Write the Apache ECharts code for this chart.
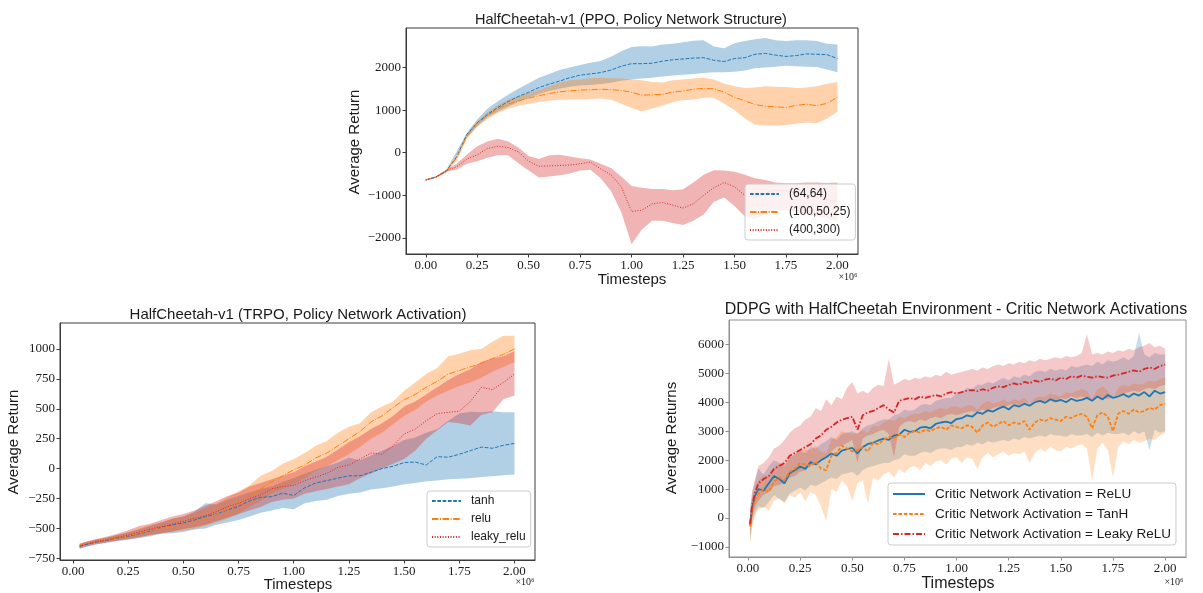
<!DOCTYPE html>
<html>
<head>
<meta charset="utf-8">
<script src="https://cdn.jsdelivr.net/npm/echarts@6/dist/echarts.min.js"></script>
<style>
  html, body { margin: 0; padding: 0; background: #fff; }
  #chart { width: 1203px; height: 593px; }
</style>
</head>
<body>
<div id="chart"></div>
<script>
// ---------- shared tick labels ----------
const X_TICKS = [0, 0.25, 0.5, 0.75, 1.0, 1.25, 1.5, 1.75, 2.0];
const PPO_Y_TICKS = [-2000, -1000, 0, 1000, 2000];
const TRPO_Y_TICKS = [-750, -500, -250, 0, 250, 500, 750, 1000];
const DDPG_Y_TICKS = [-1000, 0, 1000, 2000, 3000, 4000, 5000, 6000];

// ---------- PPO, policy network structure (timesteps in millions) ----------
const PPO_X = [0, 0.05, 0.1, 0.15, 0.2, 0.25, 0.3, 0.35, 0.4, 0.45, 0.5, 0.55, 0.6, 0.65, 0.7, 0.75, 0.8, 0.85, 0.9, 0.95, 1.0,
  1.05, 1.1, 1.15, 1.2, 1.25, 1.3, 1.35, 1.4, 1.45, 1.5, 1.55, 1.6, 1.65, 1.7, 1.75, 1.8, 1.85, 1.9, 1.95, 2.0];
const PPO_64_MEAN = [-640, -570, -430, -100, 430, 700, 900, 1060, 1200, 1320, 1420, 1530, 1610, 1680, 1760, 1820, 1850, 1880, 1940, 2030, 2090,
  2090, 2100, 2150, 2180, 2200, 2220, 2230, 2170, 2140, 2210, 2230, 2310, 2330, 2290, 2260, 2280, 2320, 2310, 2300, 2210];
const PPO_64_HI = [-630, -555, -400, 30, 470, 780, 1040, 1210, 1360, 1500, 1630, 1760, 1850, 1940, 2000, 2060, 2110, 2150, 2250, 2380, 2480,
  2500, 2490, 2540, 2560, 2590, 2630, 2640, 2490, 2450, 2570, 2620, 2660, 2690, 2640, 2620, 2640, 2640, 2620, 2560, 2540];
const PPO_64_LO = [-650, -585, -460, -60, 360, 620, 830, 960, 1080, 1190, 1290, 1380, 1450, 1500, 1550, 1580, 1590, 1610, 1640, 1690, 1720,
  1740, 1760, 1790, 1810, 1830, 1850, 1870, 1890, 1890, 1900, 1930, 1980, 2000, 2020, 2040, 2030, 2020, 2010, 1950, 1890];
const PPO_100_MEAN = [-640, -575, -440, -120, 390, 680, 870, 1030, 1140, 1220, 1280, 1340, 1390, 1430, 1450, 1470, 1480, 1490, 1480, 1460, 1420,
  1350, 1360, 1370, 1420, 1450, 1490, 1510, 1500, 1420, 1300, 1220, 1130, 1090, 1080, 1060, 1110, 1140, 1100, 1160, 1300];
const PPO_100_HI = [-630, -560, -410, -50, 450, 740, 950, 1120, 1240, 1330, 1410, 1480, 1560, 1640, 1700, 1720, 1750, 1760, 1750, 1740, 1720,
  1700, 1660, 1650, 1700, 1720, 1740, 1760, 1720, 1620, 1560, 1520, 1530, 1560, 1550, 1540, 1520, 1530, 1560, 1620, 1660];
const PPO_100_LO = [-650, -590, -470, -190, 330, 610, 790, 930, 1030, 1100, 1150, 1190, 1220, 1240, 1250, 1250, 1260, 1270, 1240, 1150, 1050,
  970, 1040, 1100, 1190, 1230, 1250, 1290, 1290, 1150, 1000, 800, 660, 640, 640, 650, 680, 710, 690, 800, 960];
const PPO_400_MEAN = [-640, -570, -420, -330, -150, -50, 100, 150, 120, 20, -200, -320, -310, -300, -290, -260, -220, -380, -520, -800, -1380,
  -1350, -1200, -1170, -1230, -1300, -1200, -1000, -820, -700, -800, -1000, -1050, -950, -880, -900, -950, -1000, -1050, -1100, -1150];
const PPO_400_HI = [-630, -555, -400, -260, -40, 150, 260, 330, 260, 120, -80, -150, -60, -50, -90, -130, -160, -260, -360, -560, -780,
  -820, -850, -850, -880, -860, -700, -520, -410, -420, -450, -520, -600, -640, -700, -720, -720, -700, -700, -710, -700];
const PPO_400_LO = [-650, -585, -440, -400, -260, -200, -120, -60, -60, -250, -420, -580, -560, -530, -490, -420, -400, -600, -900, -1400, -2150,
  -1800, -1600, -1600, -1650, -1700, -1600, -1450, -1150, -1050, -1250, -1500, -1550, -1450, -1350, -1350, -1400, -1450, -1500, -1550, -1600];

// ---------- TRPO, policy network activation ----------
const TRPO_X = [0.03, 0.05, 0.1, 0.15, 0.2, 0.25, 0.3, 0.35, 0.4, 0.45, 0.5, 0.55, 0.6, 0.65, 0.7, 0.75, 0.8, 0.85, 0.9, 0.95, 1.0,
  1.05, 1.1, 1.15, 1.2, 1.25, 1.3, 1.35, 1.4, 1.45, 1.5, 1.55, 1.6, 1.65, 1.7, 1.75, 1.8, 1.85, 1.9, 1.95, 2.0];
const TANH_MEAN = [-650, -640, -615, -600, -580, -565, -545, -520, -490, -470, -455, -430, -400, -380, -345, -315, -270, -240, -235, -205, -225,
  -160, -120, -100, -80, -60, -60, -30, 0, 20, 50, 55, 30, 100, 95, 120, 150, 180, 170, 195, 210];
const TANH_HI = [-630, -620, -595, -580, -555, -535, -510, -480, -450, -420, -400, -360, -290, -300, -260, -230, -200, -170, -150, -110, -80,
  -40, -10, 20, 50, 90, 70, 110, 150, 190, 240, 260, 300, 330, 400, 460, 475, 470, 480, 470, 470];
const TANH_LO = [-670, -660, -635, -620, -605, -595, -580, -565, -545, -540, -530, -510, -500, -470, -450, -430, -400, -370, -350, -330, -340,
  -290, -270, -260, -230, -210, -200, -175, -165, -150, -130, -120, -105, -100, -90, -85, -80, -70, -65, -55, -50];
const RELU_MEAN = [-640, -630, -610, -595, -580, -560, -540, -515, -495, -480, -465, -445, -420, -380, -340, -290, -230, -170, -110, -60, -10,
  30, 90, 130, 190, 250, 310, 390, 440, 510, 575, 620, 680, 730, 790, 820, 850, 880, 920, 955, 1000];
const RELU_HI = [-625, -615, -595, -575, -555, -530, -500, -470, -450, -420, -400, -370, -330, -290, -240, -190, -140, -60, -20, 40, 80,
  130, 190, 230, 300, 350, 380, 470, 520, 560, 650, 720, 790, 840, 940, 960, 990, 1000, 1060, 1110, 1110];
const RELU_LO = [-655, -645, -625, -610, -600, -585, -570, -555, -540, -530, -520, -505, -480, -450, -420, -380, -320, -270, -210, -170, -130,
  -80, -20, 20, 70, 120, 180, 250, 300, 370, 440, 490, 560, 610, 650, 690, 720, 760, 810, 850, 890];
const LEAKY_MEAN = [-650, -635, -612, -595, -575, -555, -530, -505, -485, -465, -440, -415, -395, -360, -320, -290, -250, -220, -170, -150, -140,
  -100, -70, -40, 10, 30, 80, 130, 120, 190, 290, 330, 400, 460, 470, 480, 560, 680, 660, 720, 790];
const LEAKY_HI = [-630, -615, -590, -570, -545, -515, -480, -460, -430, -400, -380, -350, -310, -270, -230, -200, -150, -120, -90, -60, -30,
  20, 60, 100, 160, 220, 270, 330, 380, 440, 520, 560, 620, 680, 740, 790, 830, 890, 920, 940, 980];
const LEAKY_LO = [-670, -655, -635, -620, -600, -590, -575, -555, -540, -525, -505, -490, -470, -440, -410, -380, -350, -320, -280, -260, -250,
  -210, -190, -170, -150, -130, -80, -40, 0, 40, 80, 150, 250, 320, 390, 380, 360, 450, 470, 580, 610];

// ---------- DDPG, critic network activations ----------
const DDPG_X = [0.01, 0.02, 0.035, 0.05, 0.075, 0.1, 0.125, 0.15, 0.175, 0.2, 0.225, 0.25, 0.275, 0.3, 0.325, 0.35, 0.375, 0.4, 0.425, 0.45,
  0.475, 0.5, 0.525, 0.55, 0.575, 0.6, 0.625, 0.65, 0.675, 0.7, 0.725, 0.75, 0.775, 0.8, 0.825, 0.85, 0.875, 0.9, 0.925, 0.95,
  0.975, 1.0, 1.025, 1.05, 1.075, 1.1, 1.125, 1.15, 1.175, 1.2, 1.225, 1.25, 1.275, 1.3, 1.325, 1.35, 1.375, 1.4, 1.425, 1.45,
  1.475, 1.5, 1.525, 1.55, 1.575, 1.6, 1.625, 1.65, 1.675, 1.7, 1.725, 1.75, 1.775, 1.8, 1.825, 1.85, 1.875, 1.9, 1.925, 1.95,
  1.975, 2.0];
const DDPG_RELU_MEAN = [-250, 350, 800, 1000, 950, 1200, 1450, 1350, 1200, 1550, 1650, 1780, 1700, 1930, 1850, 2000, 2100, 2230, 2150, 2330,
  2380, 2420, 2230, 2450, 2560, 2600, 2680, 2740, 2700, 2850, 2880, 3050, 2980, 3000, 3120, 3150, 3100, 3250, 3300, 3330,
  3280, 3420, 3450, 3550, 3500, 3650, 3600, 3720, 3680, 3780, 3850, 3750, 3900, 3850, 3950, 3880, 4000, 4050, 3980, 4100,
  4030, 4080, 4000, 4120, 4050, 4080, 4150, 4050, 4200, 4100, 4250, 4150, 4200, 4280, 4180, 4300, 4230, 4350, 4200, 4400,
  4300, 4350];
const DDPG_RELU_HI = [300, 900, 1300, 1700, 1500, 1800, 2000, 1900, 1800, 2100, 2200, 2300, 2250, 2450, 2400, 2550, 2650, 2800, 2700, 2900,
  2950, 3000, 2900, 3100, 3200, 3250, 3350, 3400, 3400, 3550, 3600, 3750, 3700, 3750, 3900, 3950, 3900, 4050, 4100, 4150,
  4150, 4300, 4350, 4500, 4450, 4600, 4600, 4700, 4650, 4750, 4850, 4750, 4900, 4850, 4950, 4900, 5050, 5100, 5050, 5150,
  5100, 5150, 5100, 5250, 5200, 5250, 5300, 5250, 5400, 5300, 5450, 5400, 5450, 5550, 5450, 5600, 6400, 5650, 5550, 5700,
  5650, 5650];
const DDPG_RELU_LO = [-800, -200, 200, 400, 350, 550, 800, 650, 550, 850, 950, 1050, 950, 1150, 1100, 1200, 1300, 1400, 1350, 1500,
  1550, 1600, 1450, 1650, 1750, 1800, 1850, 1900, 1900, 2000, 2050, 2200, 2150, 2150, 2250, 2300, 2250, 2350, 2400, 2400,
  2350, 2450, 2450, 2550, 2500, 2600, 2550, 2650, 2600, 2650, 2700, 2650, 2750, 2700, 2800, 2750, 2800, 2850, 2800, 2900,
  2850, 2850, 2800, 2900, 2850, 2850, 2900, 2800, 2950, 2850, 2950, 2900, 2900, 2950, 2850, 3000, 2900, 3000, 2350, 3050,
  2950, 3000];
const DDPG_TANH_MEAN = [-300, 250, 650, 850, 1000, 900, 1250, 1400, 1300, 1600, 1700, 1900, 1850, 1800, 1950, 1700, 1650, 2150, 2250, 2500,
  2400, 2300, 2350, 2450, 2300, 2600, 2550, 2700, 2800, 2750, 2900, 2800, 2950, 3000, 2950, 3050, 3000, 3100, 3150, 3050,
  3200, 3150, 3100, 3200, 3150, 2950, 3200, 3300, 3150, 3250, 3350, 3200, 3300, 3250, 3350, 3050, 3300, 3400, 3350, 3450,
  3400, 3350, 3500, 3450, 3550, 3600, 3500, 3100, 3550, 3650, 3500, 3000, 3600, 3700, 3600, 3750, 3650, 3700, 3800, 3750,
  3900, 3950];
const DDPG_TANH_HI = [100, 700, 1100, 1300, 1500, 1450, 1750, 1900, 1850, 2100, 2200, 2400, 2350, 2350, 2500, 2300, 2250, 2700, 2800, 3000,
  2950, 2900, 2950, 3050, 2950, 3200, 3150, 3300, 3400, 3350, 3500, 3450, 3550, 3600, 3600, 3700, 3650, 3750, 3800, 3750,
  3850, 3850, 3800, 3900, 3900, 3750, 3950, 4050, 3950, 4000, 4100, 4000, 4100, 4050, 4150, 3950, 4150, 4200, 4200, 4300,
  4250, 4200, 4350, 4300, 4400, 4450, 4400, 4100, 4450, 4550, 4400, 4100, 4500, 4600, 4550, 4650, 4600, 4650, 4750, 4700,
  4800, 4850];
const DDPG_TANH_LO = [-900, -300, 100, 300, 400, 250, 600, 700, 500, 800, 700, 900, 600, 900, 800, 400, -100, 1000, 900, 1300,
  1100, 600, 1200, 1300, 500, 1400, 1300, 1500, 1600, 1400, 1700, 1550, 1750, 1800, 1650, 1900, 1800, 1950, 2000, 1850,
  2050, 2100, 1900, 2100, 2050, 1700, 2100, 2250, 2100, 2200, 2300, 2150, 2250, 2200, 2300, 1900, 2250, 2400, 2300, 2450,
  2350, 2300, 2450, 2400, 2500, 2550, 2400, 1300, 2400, 2600, 2350, 1400, 2450, 2650, 2550, 2700, 2600, 2650, 2750, 2700,
  2850, 2950];
const DDPG_LEAKY_MEAN = [-200, 450, 900, 1200, 1350, 1450, 1700, 1800, 1900, 2150, 2250, 2350, 2450, 2550, 2750, 2850, 3050, 3150, 3300, 3400,
  3450, 3500, 3050, 3550, 3650, 3700, 3800, 3900, 3750, 3650, 4050, 4100, 4150, 4100, 4200, 4150, 4200, 4250, 4200, 4300,
  4350, 4300, 4350, 4400, 4420, 4380, 4450, 4400, 4500, 4550, 4520, 4600, 4650, 4600, 4700, 4650, 4750, 4700, 4780, 4820,
  4750, 4850, 4800, 4900, 4850, 4920, 4880, 4850, 4900, 4870, 4850, 4920, 4950, 5000, 5050, 5100, 5050, 5150, 5200, 5150,
  5250, 5300];
const DDPG_LEAKY_HI = [200, 900, 1400, 1800, 1900, 2100, 2400, 2500, 2700, 2950, 3100, 3200, 3400, 3500, 3800, 3700, 4100, 3900, 4200, 4100,
  4500, 4700, 4300, 4400, 4300, 4500, 4600, 4550, 5500, 4600, 4700, 4800, 4750, 4850, 4800, 4900, 4850, 4950, 4900, 5050,
  4950, 5000, 5050, 5100, 5150, 5100, 5200, 5150, 5250, 5300, 5250, 5350, 5300, 5400, 5350, 5450, 5400, 5500, 5450, 5500,
  5550, 5500, 5600, 5550, 5600, 5700, 6350, 5650, 5700, 5650, 5750, 5700, 5800, 5750, 5850, 5800, 5900, 5950, 6050, 5900,
  5950, 5850];
const DDPG_LEAKY_LO = [-600, 0, 400, 600, 800, 900, 1100, 1150, 1200, 1400, 1450, 1600, 1650, 1800, 1900, 2050, 2100, 2300, 2450, 2500,
  2600, 2700, 1900, 2750, 2850, 2900, 3000, 3050, 2900, 2100, 3150, 3300, 3350, 3300, 3400, 3350, 3450, 3500, 3450, 3550,
  3600, 3550, 3600, 3650, 3700, 3650, 3750, 3700, 3800, 3850, 3800, 3900, 3950, 3900, 4000, 3950, 4050, 4000, 4050, 4100,
  4000, 4150, 4100, 4200, 4150, 4200, 4150, 4100, 4200, 4150, 4100, 4200, 4250, 4300, 4350, 4400, 4350, 4450, 4500, 4450,
  4550, 4600];

// ---------- styling helpers ----------
const SERIF = '"Liberation Serif", "DejaVu Serif", serif';
const SANS = '"Liberation Sans", "DejaVu Sans", sans-serif';
const BLUE = '#1f77b4', ORANGE = '#ff7f0e', RED = '#d62728';
const TEXT = '#1a1a1a';

function pairs(xs, ys) { return xs.map((x, i) => [x, ys[i]]); }
function tickFmtY(v) { return v < 0 ? '\u2212' + Math.abs(v) : String(v); }

// filled spread between a lower and an upper curve
function band(g, xs, lo, hi, fill) {
  return {
    type: 'custom', xAxisIndex: g, yAxisIndex: g, z: 1, silent: true,
    data: [[xs[0], lo[0]]],
    renderItem: function (params, api) {
      const pts = [];
      for (let i = 0; i < xs.length; i++) pts.push(api.coord([xs[i], hi[i]]));
      for (let i = xs.length - 1; i >= 0; i--) pts.push(api.coord([xs[i], lo[i]]));
      return { type: 'polygon', shape: { points: pts }, style: { fill: fill } };
    }
  };
}
function line(name, g, xs, ys, color, width, dash) {
  return {
    type: 'line', name: name, xAxisIndex: g, yAxisIndex: g, z: 3,
    data: pairs(xs, ys), symbol: 'none', showSymbol: false,
    lineStyle: { color: color, width: width, type: dash },
    itemStyle: { color: color }
  };
}
function xAxis(g, min, max, frame) {
  return {
    type: 'value', gridIndex: g, min: min, max: max,
    splitLine: { show: false },
    axisLine: { show: true, onZero: false, lineStyle: { color: frame, width: 1 } },
    axisTick: { show: true, inside: false, length: 3.5, lineStyle: { color: frame }, customValues: X_TICKS },
    axisLabel: { customValues: X_TICKS, formatter: v => v.toFixed(2), fontFamily: SERIF, fontSize: 13, color: TEXT, margin: 5 }
  };
}
function yAxis(g, min, max, ticks, frame) {
  return {
    type: 'value', gridIndex: g, min: min, max: max,
    splitLine: { show: false },
    axisLine: { show: true, onZero: false, lineStyle: { color: frame, width: 1 } },
    axisTick: { show: true, inside: false, length: 3.5, lineStyle: { color: frame }, customValues: ticks },
    axisLabel: { customValues: ticks, formatter: tickFmtY, fontFamily: SERIF, fontSize: 13, color: TEXT, margin: 5 }
  };
}
// legend keys show only the line sample (no marker)
function legend(names, left, top, itemW, itemH, fontSize) {
  return {
    data: names, orient: 'vertical', left: left, top: top,
    itemWidth: itemW, itemHeight: itemH, itemGap: 6,
    padding: [4, 5, 4, 4],
    itemStyle: { color: 'rgba(0,0,0,0)', borderWidth: 0, opacity: 0 },
    backgroundColor: 'rgba(255,255,255,0.8)', borderColor: '#cccccc', borderWidth: 1, borderRadius: 3,
    textStyle: { fontFamily: SANS, fontSize: fontSize, color: TEXT, padding: [0, 0, 0, 5] },
    selectedMode: false
  };
}
function txt(x, y, s, size, family, rot) {
  return {
    type: 'text', x: x, y: y, rotation: rot || 0,
    style: { text: s, font: size + 'px ' + family, fill: TEXT, textAlign: 'center', textVerticalAlign: 'middle' }
  };
}

const DARK = '#3a3a3a', LIGHT = '#8f8f8f';
const PPO_DASH = [3.7, 1.6], DASHDOT = [6.4, 1.6, 1, 1.6], DOT = [1, 1.65];

const option = {
  animation: false,
  backgroundColor: '#ffffff',
  grid: [
    { left: 406, top: 28, width: 452, height: 226, show: true, borderColor: DARK, borderWidth: 1 },
    { left: 60, top: 323, width: 475, height: 237, show: true, borderColor: DARK, borderWidth: 1 },
    { left: 729, top: 320, width: 457, height: 237, show: true, borderColor: LIGHT, borderWidth: 1 }
  ],
  xAxis: [xAxis(0, -0.096, 2.1, DARK), xAxis(1, -0.059, 2.093, DARK), xAxis(2, -0.091, 2.1, LIGHT)],
  yAxis: [
    yAxis(0, -2378, 2927, PPO_Y_TICKS, DARK),
    yAxis(1, -764, 1217, TRPO_Y_TICKS, DARK),
    yAxis(2, -1346, 6841, DDPG_Y_TICKS, LIGHT)
  ],
  legend: [
    legend(['(64,64)', '(100,50,25)', '(400,300)'], 745, 184, 29, 14, 12),
    legend(['tanh', 'relu', 'leaky_relu'], 427, 491, 29, 14, 12),
    legend(['Critic Network Activation = ReLU', 'Critic Network Activation = TanH',
      'Critic Network Activation = Leaky ReLU'], 888, 483, 32, 15, 13.5)
  ],
  series: [
    band(0, PPO_X, PPO_64_LO, PPO_64_HI, 'rgba(31,119,180,0.35)'),
    band(0, PPO_X, PPO_100_LO, PPO_100_HI, 'rgba(255,127,14,0.35)'),
    band(0, PPO_X, PPO_400_LO, PPO_400_HI, 'rgba(214,39,40,0.35)'),
    line('(64,64)', 0, PPO_X, PPO_64_MEAN, BLUE, 1, PPO_DASH),
    line('(100,50,25)', 0, PPO_X, PPO_100_MEAN, ORANGE, 1, DASHDOT),
    line('(400,300)', 0, PPO_X, PPO_400_MEAN, RED, 1, DOT),

    band(1, TRPO_X, TANH_LO, TANH_HI, 'rgba(31,119,180,0.35)'),
    band(1, TRPO_X, RELU_LO, RELU_HI, 'rgba(255,127,14,0.35)'),
    band(1, TRPO_X, LEAKY_LO, LEAKY_HI, 'rgba(214,39,40,0.35)'),
    line('tanh', 1, TRPO_X, TANH_MEAN, BLUE, 1, PPO_DASH),
    line('relu', 1, TRPO_X, RELU_MEAN, ORANGE, 1, DASHDOT),
    line('leaky_relu', 1, TRPO_X, LEAKY_MEAN, RED, 1, DOT),

    band(2, DDPG_X, DDPG_RELU_LO, DDPG_RELU_HI, 'rgba(31,119,180,0.25)'),
    band(2, DDPG_X, DDPG_TANH_LO, DDPG_TANH_HI, 'rgba(255,127,14,0.25)'),
    band(2, DDPG_X, DDPG_LEAKY_LO, DDPG_LEAKY_HI, 'rgba(214,39,40,0.25)'),
    line('Critic Network Activation = ReLU', 2, DDPG_X, DDPG_RELU_MEAN, BLUE, 1.8, 'solid'),
    line('Critic Network Activation = TanH', 2, DDPG_X, DDPG_TANH_MEAN, ORANGE, 1.8, [3.6, 1.8]),
    line('Critic Network Activation = Leaky ReLU', 2, DDPG_X, DDPG_LEAKY_MEAN, RED, 1.8, [6, 2, 1.5, 2])
  ],
  graphic: [
    txt(631, 20, 'HalfCheetah-v1 (PPO, Policy Network Structure)', 14.5, SANS),
    txt(632, 280, 'Timesteps', 15, SANS),
    txt(355, 142, 'Average Return', 15, SANS, Math.PI / 2),
    txt(848, 277, '\u00d710\u2076', 10, SERIF),

    txt(298, 315, 'HalfCheetah-v1 (TRPO, Policy Network Activation)', 15, SANS),
    txt(298, 585, 'Timesteps', 15, SANS),
    txt(14, 442, 'Average Return', 15, SANS, Math.PI / 2),
    txt(525, 582, '\u00d710\u2076', 10, SERIF),

    txt(956, 310, 'DDPG with HalfCheetah Environment - Critic Network Activations', 16, SANS),
    txt(958, 584, 'Timesteps', 16, SANS),
    txt(672, 438, 'Average Returns', 15, SANS, Math.PI / 2),
    txt(1174, 582, '\u00d710\u2076', 10, SERIF)
  ]
};

const chart = echarts.init(document.getElementById('chart'), null, { renderer: 'canvas' });
chart.setOption(option);
</script>
</body>
</html>
